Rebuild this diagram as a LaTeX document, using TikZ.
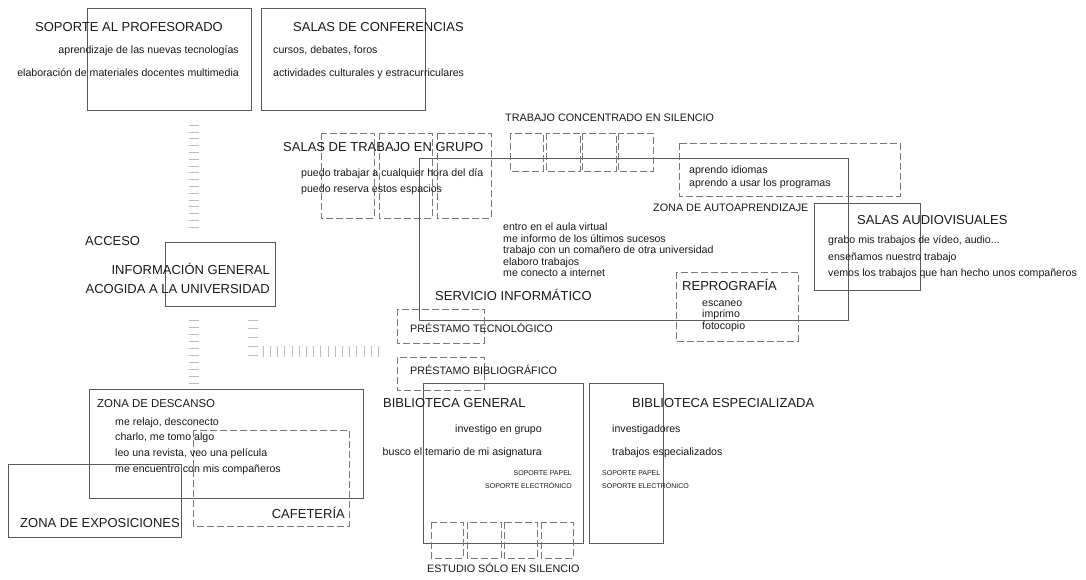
\documentclass[tikz,border=0pt]{standalone}
\usepackage{fontspec}
\setmainfont{Liberation Sans}
\definecolor{linegray}{HTML}{5A5A5A}
\definecolor{dashgray}{HTML}{787878}
\definecolor{txt}{HTML}{1A1A1A}
\definecolor{tickgray}{HTML}{BDBDBD}
\tikzset{
  solidbox/.style={draw=linegray, line width=0.7pt},
  dashbox/.style={draw=dashgray, line width=0.7pt, dash pattern=on 7pt off 3pt},
  ttl/.style={font=\fontsize{13}{15}\selectfont, text=txt, inner sep=0pt, anchor=base west},
  mid/.style={font=\fontsize{10.8}{12}\selectfont, text=txt, inner sep=0pt, anchor=base west},
  sm/.style={font=\fontsize{10.6}{12}\selectfont, text=txt, inner sep=0pt, anchor=base west},
  tiny/.style={font=\fontsize{7}{8}\selectfont, text=txt, inner sep=0pt, anchor=base west},
  tickline/.style={draw=tickgray, line width=0.6pt}
}
\begin{document}
\begin{tikzpicture}[x=1pt,y=-1pt]
\useasboundingbox[fill=white] (0,0) rectangle (1086,579);

% ---- solid boxes
\draw[solidbox] (87,8) rectangle (251,110);
\draw[solidbox] (261,8) rectangle (425,110);
\draw[solidbox] (165,242) rectangle (275,306);
\draw[solidbox] (419,158) rectangle (848,320);
\draw[solidbox] (814,203) rectangle (920,290);
\draw[solidbox] (423,383) rectangle (583,543);
\draw[solidbox] (589,383) rectangle (663,543);
\draw[solidbox] (89,389) rectangle (363,498);
\draw[solidbox] (8,464) rectangle (181,537);

% ---- dashed boxes
\draw[dashbox] (321,133) rectangle (374,218);
\draw[dashbox] (379,133) rectangle (432,218);
\draw[dashbox] (437,133) rectangle (491,218);
\draw[dashbox] (510,133) rectangle (543,171);
\draw[dashbox] (546,133) rectangle (580,171);
\draw[dashbox] (582,133) rectangle (616,171);
\draw[dashbox] (618,133) rectangle (653,171);
\draw[dashbox] (679,143) rectangle (900,196);
\draw[dashbox] (676,272) rectangle (798,341);
\draw[dashbox] (397,309) rectangle (484,343);
\draw[dashbox] (397,357) rectangle (484,390);
\draw[dashbox] (431,522) rectangle (463,558);
\draw[dashbox] (467,522) rectangle (501,558);
\draw[dashbox] (504,522) rectangle (537,558);
\draw[dashbox] (541,522) rectangle (573,558);
\draw[dashbox] (193,430) rectangle (349,526);

% ---- tick marks (paths)
\foreach \i in {0,...,15} \draw[tickline] (189,125+6.8*\i) -- (199,125+6.8*\i);
\foreach \i in {0,...,9} \draw[tickline] (189,320+7*\i) -- (199,320+7*\i);
\foreach \i in {0,...,4} \draw[tickline] (248,320+8.7*\i) -- (258,320+8.7*\i);
\foreach \i in {0,...,16} \draw[tickline] (263+7.2*\i,346) -- (263+7.2*\i,357);

% ---- texts
\node[ttl] (tsop) at (35,31.7) {SOPORTE AL PROFESORADO};
\node[sm,anchor=base east] (sop1) at (239,53.8) {aprendizaje de las nuevas tecnologías};
\node[sm,anchor=base east] (sop2) at (239,76.8) {elaboración de materiales docentes multimedia};

\node[ttl] (tconf) at (293,31.7) {SALAS DE CONFERENCIAS};
\node[sm] (conf1) at (273,53.8) {cursos, debates, foros};
\node[sm] (conf2) at (273,76.8) {actividades culturales y estracurriculares};

\node[mid] (tconc) at (505,121.9) {TRABAJO CONCENTRADO EN SILENCIO};

\node[ttl] (tgrupo) at (283,151.7) {SALAS DE TRABAJO EN GRUPO};
\node[sm] (grupo1) at (301,176.8) {puedo trabajar a cualquier hora del día};
\node[sm] (grupo2) at (301,192.8) {puedo reserva estos espacios};

\node[sm] (auto1) at (689,173.8) {aprendo idiomas};
\node[sm] (auto2) at (689,186.8) {aprendo a usar los programas};
\node[mid] (tauto) at (653,211.9) {ZONA DE AUTOAPRENDIZAJE};

\node[ttl] (taudio) at (857,224.7) {SALAS AUDIOVISUALES};
\node[sm] (audio1) at (828,243.8) {grabo mis trabajos de vídeo, audio...};
\node[sm] (audio2) at (828,260.8) {enseñamos nuestro trabajo};
\node[sm] (audio3) at (828,276.8) {vemos los trabajos que han hecho unos compañeros};

\node[sm] (inf1) at (503,230.8) {entro en el aula virtual};
\node[sm] (inf2) at (503,242.8) {me informo de los últimos sucesos};
\node[sm] (inf3) at (503,253.8) {trabajo con un comañero de otra universidad};
\node[sm] (inf4) at (503,265.8) {elaboro trabajos};
\node[sm] (inf5) at (503,276.8) {me conecto a internet};
\node[ttl] (tinf) at (435,300.7) {SERVICIO INFORMÁTICO};

\node[ttl] (tacc) at (85,245.7) {ACCESO};
\node[ttl,anchor=base east] (tinfo1) at (270,274.7) {INFORMACIÓN GENERAL};
\node[ttl,anchor=base east] (tinfo2) at (270,293.7) {ACOGIDA A LA UNIVERSIDAD};

\node[ttl] (trepro) at (682,290.7) {REPROGRAFÍA};
\node[sm] (repro1) at (702,306.8) {escaneo};
\node[sm] (repro2) at (702,317.8) {imprimo};
\node[sm] (repro3) at (702,329.8) {fotocopio};

\node[mid] (tptec) at (410,332.9) {PRÉSTAMO TECNOLÓGICO};
\node[mid] (tpbib) at (410,374.9) {PRÉSTAMO BIBLIOGRÁFICO};

\node[ttl] (tbgen) at (383,407.7) {BIBLIOTECA GENERAL};
\node[sm,anchor=base east] (bgen1) at (542,432.8) {investigo en grupo};
\node[sm,anchor=base east] (bgen2) at (542,455.8) {busco el temario de mi asignatura};
\node[tiny,anchor=base east] (bgen3) at (572,475.5) {SOPORTE PAPEL};
\node[tiny,anchor=base east] (bgen4) at (572,488.5) {SOPORTE ELECTRÓNICO};

\node[ttl] (tbesp) at (632,407.7) {BIBLIOTECA ESPECIALIZADA};
\node[sm] (besp1) at (612,432.8) {investigadores};
\node[sm] (besp2) at (612,455.8) {trabajos especializados};
\node[tiny] (besp3) at (602,475.5) {SOPORTE PAPEL};
\node[tiny] (besp4) at (602,488.5) {SOPORTE ELECTRÓNICO};

\node[mid] (testud) at (427,572.9) {ESTUDIO SÓLO EN SILENCIO};

\node[ttl,font=\fontsize{11.4}{13}\selectfont] (tdesc) at (97,407.2) {ZONA DE DESCANSO};
\node[sm] (desc1) at (115,425.8) {me relajo, desconecto};
\node[sm] (desc2) at (115,440.8) {charlo, me tomo algo};
\node[sm] (desc3) at (115,456.8) {leo una revista, veo una película};
\node[sm] (desc4) at (115,472.8) {me encuentro con mis compañeros};

\node[ttl,anchor=base east] (tcafe) at (345,518.7) {CAFETERÍA};
\node[ttl] (texpo) at (20,527.7) {ZONA DE EXPOSICIONES};
\end{tikzpicture}
\end{document}
